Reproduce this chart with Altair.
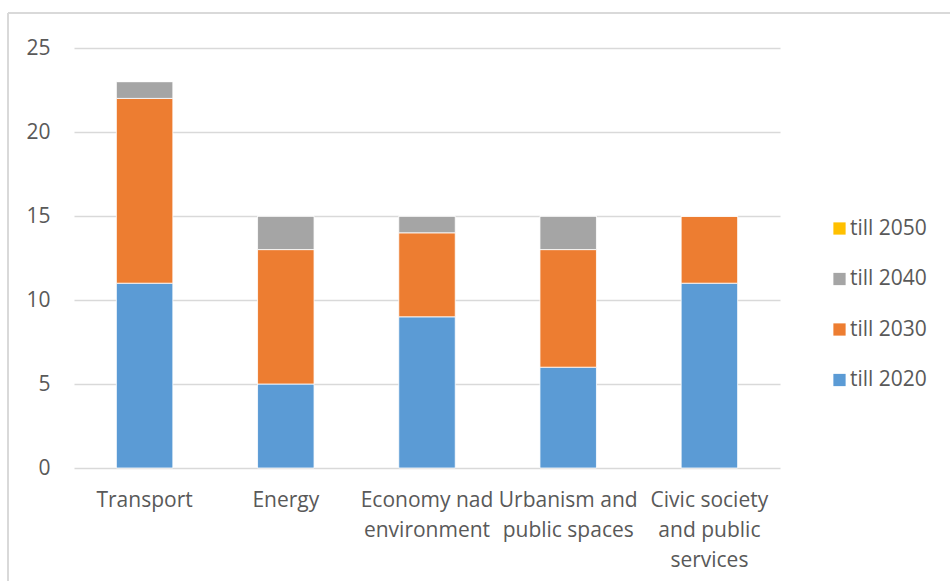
import altair as alt
import pandas as pd

# Number of measures per area, by the horizon they are planned for
categories = [
    "Transport",
    "Energy",
    "Economy nad environment",
    "Urbanism and public spaces",
    "Civic society and public services",
]
label_lines = [
    ["Transport"],
    ["Energy"],
    ["Economy nad", "environment"],
    ["Urbanism and", "public spaces"],
    ["Civic society", "and public", "services"],
]
series = ["till 2020", "till 2030", "till 2040", "till 2050"]
till_2020 = [11, 5, 9, 6, 11]
till_2030 = [11, 8, 5, 7, 4]
till_2040 = [1, 2, 1, 2, 0]
till_2050 = [0, 0, 0, 0, 0]
colors = ["#5B9BD5", "#ED7D31", "#A5A5A5", "#FFC000"]

rows = []
for s_idx, (name, vals) in enumerate(zip(series, [till_2020, till_2030, till_2040, till_2050])):
    for cat, v in zip(categories, vals):
        rows.append({"area": cat, "horizon": name, "order": s_idx, "count": v})
df = pd.DataFrame(rows)

# multi-line axis labels
label_expr = ""
for cat, lines in zip(categories, label_lines):
    arr = "[" + ",".join("'" + l + "'" for l in lines) + "]"
    label_expr += f"datum.label == '{cat}' ? {arr} : "
label_expr += "datum.label"

FONT = "Open Sans"
TEXT = "#595959"
GRID = "#D9D9D9"

bars = alt.Chart(df).mark_bar(stroke="white", strokeWidth=0.8).encode(
    x=alt.X(
        "area:N",
        sort=categories,
        title=None,
        scale=alt.Scale(paddingInner=0.6, paddingOuter=0.3),
        axis=alt.Axis(
            labelAngle=0,
            labelExpr=label_expr,
            labelFont=FONT,
            labelFontSize=21,
            labelColor=TEXT,
            labelPadding=21,
            labelLineHeight=30,
            labelBaseline="top",
            ticks=False,
            domain=False,
            grid=False,
        ),
    ),
    y=alt.Y(
        "count:Q",
        stack="zero",
        title=None,
        scale=alt.Scale(domain=[0, 25], nice=False),
        axis=alt.Axis(
            values=[0, 5, 10, 15, 20, 25],
            labelFont=FONT,
            labelFontSize=21,
            labelColor=TEXT,
            labelPadding=24,
            ticks=False,
            domain=False,
            grid=True,
            gridColor=GRID,
            gridWidth=1.5,
        ),
    ),
    color=alt.Color(
        "horizon:N",
        scale=alt.Scale(domain=series, range=colors),
        legend=alt.Legend(
            title=None,
            values=series[::-1],
            orient="none",
            legendX=755,
            legendY=170,
            symbolType="square",
            symbolSize=150,
            symbolStrokeWidth=0,
            labelFont=FONT,
            labelFontSize=21,
            labelColor=TEXT,
            rowPadding=28.5,
            labelOffset=0,
        ),
    ),
    order=alt.Order("order:Q", sort="ascending"),
)

# light frame along the top and left edges of the chart
frame_src = alt.Chart(pd.DataFrame({"k": [0]}))
frame_top = frame_src.mark_rule(color=GRID, strokeWidth=2).encode(
    x=alt.value(-66), x2=alt.value(876), y=alt.value(-35)
)
frame_left = frame_src.mark_rule(color=GRID, strokeWidth=2).encode(
    x=alt.value(-66), y=alt.value(-35), y2=alt.value(533)
)

chart = alt.layer(frame_top, frame_left, bars).properties(
    width=706,
    height=420,
    autosize=alt.AutoSizeParams(type="none"),
    padding={"left": 74, "top": 48, "right": 170, "bottom": 113},
    view=alt.ViewBackground(stroke="transparent", strokeWidth=0),
).configure_view(strokeWidth=0, stroke="transparent").configure(background="white")

chart.save("out.html", embed_options={"renderer": "svg", "actions": False})
